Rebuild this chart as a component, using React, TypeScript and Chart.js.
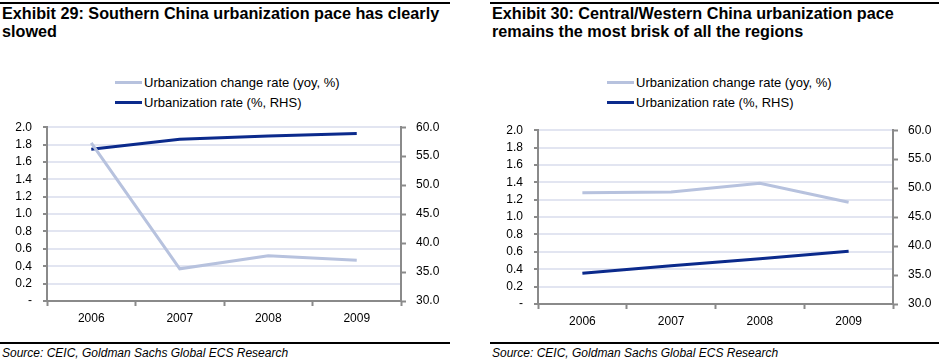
import React, { useEffect, useRef } from "react";
import { Chart, registerables } from "chart.js";

Chart.register(...registerables);

const categories = ["2006", "2007", "2008", "2009"];
const seriesLabels = ["Urbanization change rate (yoy, %)", "Urbanization rate (%, RHS)"];
const southChange = [1.82, 0.37, 0.52, 0.47];
const southRate = [56.2, 57.9, 58.5, 58.9];
const centralChange = [1.28, 1.29, 1.39, 1.17];
const centralRate = [35.3, 36.6, 37.8, 39.1];
const leftAxis = { min: 0, max: 2, step: 0.2 };
const rightAxis = { min: 30, max: 60, step: 5 };
const titles = [
  "Exhibit 29: Southern China urbanization pace has clearly slowed",
  "Exhibit 30: Central/Western China urbanization pace remains the most brisk of all the regions",
];
const sourceText = "Source: CEIC, Goldman Sachs Global ECS Research";

const LIGHT = "#b7c2de";
const DARK = "#0b2a8c";
const GRID = "#e2e5f1";
const AXIS = "#8a8a8a";
const FONT = "'Liberation Sans', Arial, Helvetica, sans-serif";
const CANVAS_H = 221;

type PanelProps = {
  left: number;
  width: number;
  title: string;
  change: number[];
  rate: number[];
  canvasTop: number;
  yLeftW: number;
  yRightW: number;
  legendX: number;
};

function Panel(p: PanelProps) {
  const ref = useRef<HTMLCanvasElement>(null);
  useEffect(() => {
    if (!ref.current) return;
    const chart = new Chart(ref.current, {
      type: "line",
      data: {
        labels: categories,
        datasets: [
          {
            label: seriesLabels[0],
            data: p.change,
            borderColor: LIGHT,
            backgroundColor: LIGHT,
            borderWidth: 3,
            pointRadius: 0,
            tension: 0,
            yAxisID: "y",
          },
          {
            label: seriesLabels[1],
            data: p.rate,
            borderColor: DARK,
            backgroundColor: DARK,
            borderWidth: 3,
            pointRadius: 0,
            tension: 0,
            yAxisID: "y1",
          },
        ],
      },
      options: {
        animation: false,
        responsive: false,
        maintainAspectRatio: false,
        layout: { padding: { top: 3, bottom: 0, left: 0, right: 0 } },
        plugins: { legend: { display: false }, tooltip: { enabled: false }, title: { display: false } },
        scales: {
          x: {
            offset: true,
            grid: { offset: true, drawOnChartArea: false, tickLength: 5, tickColor: AXIS, tickWidth: 2 },
            border: { color: AXIS, width: 2 },
            ticks: { color: "#000", font: { family: FONT, size: 12 }, padding: 5, maxRotation: 0 },
            afterFit: (s: any) => {
              s.height = 29;
            },
          },
          y: {
            position: "left",
            min: leftAxis.min,
            max: leftAxis.max,
            ticks: {
              stepSize: leftAxis.step,
              autoSkip: false,
              color: "#000",
              font: { family: FONT, size: 12 },
              padding: 11,
              callback: (v: any) => (Math.abs(Number(v)) < 1e-9 ? "-" : Number(v).toFixed(1)),
            },
            grid: {
              color: (c: any) => (c.tick && Math.abs(c.tick.value) < 1e-9 ? "rgba(0,0,0,0)" : GRID),
              lineWidth: 2,
              tickLength: 4,
              tickColor: AXIS,
              tickWidth: 2,
            },
            border: { color: AXIS, width: 2 },
            afterFit: (s: any) => {
              s.width = p.yLeftW;
            },
          },
          y1: {
            position: "right",
            min: rightAxis.min,
            max: rightAxis.max,
            ticks: {
              stepSize: rightAxis.step,
              autoSkip: false,
              color: "#000",
              font: { family: FONT, size: 12 },
              padding: 10,
              callback: (v: any) => Number(v).toFixed(1),
            },
            grid: { drawOnChartArea: false, tickLength: 5, tickColor: AXIS, tickWidth: 2 },
            border: { color: AXIS, width: 2 },
            afterFit: (s: any) => {
              s.width = p.yRightW;
            },
          },
        },
      },
    });
    return () => chart.destroy();
  }, []);

  const legendColors = [LIGHT, DARK];
  return (
    <div style={{ position: "absolute", left: p.left, top: 0, width: p.width, height: 361 }}>
      <div style={{ position: "absolute", left: 0, top: 2, width: p.width, height: 2, background: "#000" }} />
      <div
        style={{
          position: "absolute",
          left: 2,
          top: 5,
          width: p.width - 2,
          fontFamily: FONT,
          fontWeight: "bold",
          fontSize: 16.2,
          lineHeight: "17.5px",
          color: "#000",
        }}
      >
        {p.title}
      </div>
      {seriesLabels.map((lab, i) => (
        <div
          key={lab}
          style={{
            position: "absolute",
            left: p.legendX,
            top: 74 + i * 20,
            height: 16,
            display: "flex",
            alignItems: "center",
            fontFamily: FONT,
            fontSize: 13,
            color: "#000",
            whiteSpace: "nowrap",
          }}
        >
          <span style={{ display: "inline-block", width: 27, height: 3, background: legendColors[i], marginRight: 2 }} />
          <span>{lab}</span>
        </div>
      ))}
      <canvas
        ref={ref}
        width={p.width}
        height={CANVAS_H}
        style={{ position: "absolute", left: 0, top: p.canvasTop, width: p.width, height: CANVAS_H }}
      />
      <div style={{ position: "absolute", left: 0, top: 342, width: p.width, height: 2, background: "#000" }} />
      <div
        style={{
          position: "absolute",
          left: 2,
          top: 345,
          fontFamily: FONT,
          fontStyle: "italic",
          fontSize: 12,
          lineHeight: "16px",
          color: "#000",
          whiteSpace: "nowrap",
        }}
      >
        {sourceText}
      </div>
    </div>
  );
}

export default function App() {
  useEffect(() => {
    document.body.style.margin = "0";
  }, []);
  return (
    <div style={{ position: "absolute", left: 0, top: 0, width: 939, height: 361, background: "#fff", overflow: "hidden" }}>
      <Panel left={0} width={450} title={titles[0]} change={southChange} rate={southRate} canvasTop={109} yLeftW={47} yRightW={49} legendX={115} />
      <Panel left={490} width={449} title={titles[1]} change={centralChange} rate={centralRate} canvasTop={112} yLeftW={48} yRightW={46} legendX={117} />
    </div>
  );
}
